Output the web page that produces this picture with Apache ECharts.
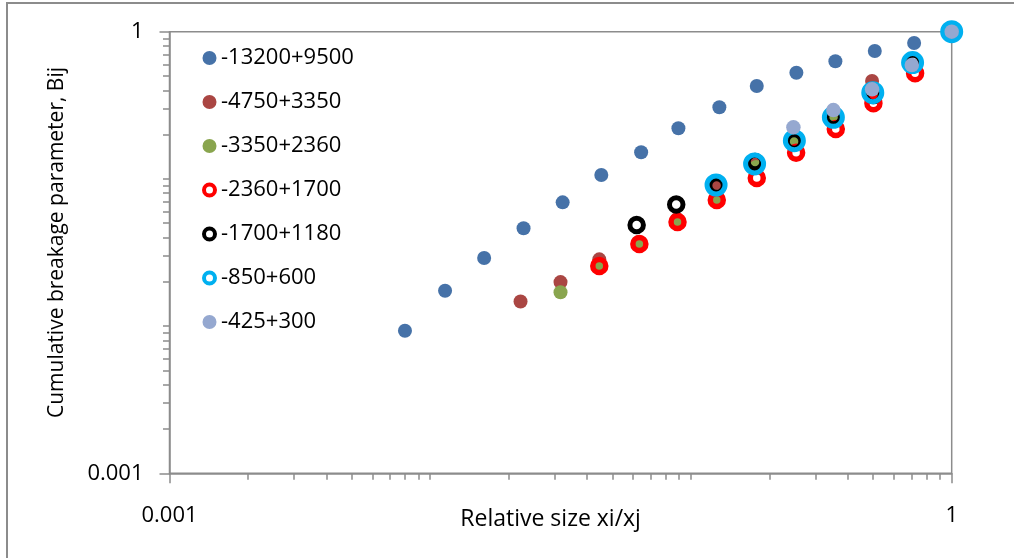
<!DOCTYPE html>
<html>
<head>
<meta charset="utf-8">
<script src="https://cdn.jsdelivr.net/npm/echarts@6/dist/echarts.min.js"></script>
<style>
  html, body { margin: 0; padding: 0; background: #ffffff; }
  #chart { width: 1014px; height: 558px; }
</style>
</head>
<body>
<div id="chart"></div>
<script>
// Size classes (µm) shown in the legend
const seriesNames = ['-13200+9500', '-4750+3350', '-3350+2360', '-2360+1700', '-1700+1180', '-850+600', '-425+300'];

// [relative size xi/xj, cumulative breakage parameter Bij]
const s13200 = [[0.0080, 0.0093], [0.0114, 0.0174], [0.0161, 0.0290], [0.0228, 0.0462], [0.0322, 0.0693],
                [0.0453, 0.1063], [0.0644, 0.1516], [0.0895, 0.2208], [0.1285, 0.3065], [0.1788, 0.4277],
                [0.2537, 0.5265], [0.3580, 0.6302], [0.5070, 0.7395], [0.7175, 0.8379], [1, 1]];
const s4750 = [[0.0222, 0.0147], [0.0316, 0.0199], [0.0445, 0.0284], [0.0632, 0.0373], [0.0885, 0.0534],
               [0.1248, 0.0938], [0.1760, 0.1344], [0.2490, 0.1867], [0.3520, 0.2633], [0.4950, 0.4625],
               [0.7080, 0.5850], [1, 1]];
const s3350 = [[0.0316, 0.0170], [0.0447, 0.0256], [0.0632, 0.0361], [0.0885, 0.0510], [0.1256, 0.0719],
               [0.1777, 0.1204], [0.2507, 0.1809], [0.3539, 0.2593], [0.4994, 0.3659], [0.7111, 0.5848], [1, 1]];
const s2360 = [[0.0445, 0.0256], [0.0634, 0.0361], [0.0888, 0.0510], [0.1256, 0.0719], [0.1788, 0.1014],
               [0.2531, 0.1507], [0.3593, 0.2183], [0.5009, 0.3263], [0.7238, 0.5217], [1, 1]];
const s1700 = [[0.0619, 0.0486], [0.0878, 0.0670], [0.1254, 0.0902], [0.1761, 0.1302], [0.2486, 0.1795],
               [0.3524, 0.2633], [0.5009, 0.3715], [0.7111, 0.6223], [1, 1]];
const s850 = [[0.1248, 0.0909], [0.1754, 0.1263], [0.2492, 0.1818], [0.3517, 0.2621], [0.4981, 0.3851],
              [0.7079, 0.6175], [1, 1]];
const s425 = [[0.2471, 0.2241], [0.3517, 0.2937], [0.4951, 0.4062], [0.7031, 0.5939], [1, 1]];

// Labelled (major) tick values on both log axes
const majorTicks = [0.001, 1];

// Minor ticks: 2..9 within every decade, plus the inner decade marks
const minorTicks = [];
for (let e = -3; e < 0; e++) {
  for (let m = 2; m <= 10; m++) {
    if (e === -1 && m === 10) continue;
    minorTicks.push(+(m * Math.pow(10, e)).toPrecision(3));
  }
}

const font = '"Open Sans", sans-serif';
const axisGray = '#8c8c8c';
const colors = {
  blue: '#4672A8', brown: '#AA4643', green: '#89A54E',
  red: '#FF0000', black: '#000000', cyan: '#00B0F0', grayBlue: '#95A8D0'
};

function tickLabel(v) {
  return v >= 0.5 ? '1' : '0.001';
}

function filled(name, data, color, size) {
  return {
    type: 'scatter', name: name, data: data, symbol: 'circle', symbolSize: size,
    itemStyle: { color: color, opacity: 1 },
    emphasis: { disabled: true }
  };
}

function ring(name, data, color, size, bw) {
  return {
    type: 'scatter', name: name, data: data, symbol: 'circle', symbolSize: size,
    itemStyle: { color: 'rgba(255,255,255,0)', borderColor: color, borderWidth: bw, opacity: 1 },
    emphasis: { disabled: true }
  };
}

const legendStyles = [
  { borderColor: colors.blue, borderWidth: 3 },
  { borderColor: colors.brown, borderWidth: 3 },
  { borderColor: colors.green, borderWidth: 3 },
  { borderWidth: 4 },
  { borderWidth: 4 },
  { borderWidth: 4 },
  { borderColor: colors.grayBlue, borderWidth: 3 }
];

const chart = echarts.init(document.getElementById('chart'));

const option = {
  animation: false,
  backgroundColor: '#ffffff',
  textStyle: { fontFamily: font },
  graphic: [{
    type: 'rect', silent: true, z: -10,
    shape: { x: 7, y: 3, width: 1030, height: 580 },
    style: { fill: 'none', stroke: axisGray, lineWidth: 2 }
  }],
  grid: {
    left: 169.5, right: 62.3, top: 31.7, bottom: 84.7,
    outerBoundsMode: 'none', containLabel: false,
    show: true, borderColor: axisGray, borderWidth: 1.5, backgroundColor: 'rgba(0,0,0,0)'
  },
  legend: {
    orient: 'vertical', left: 197, top: 42,
    itemWidth: 11, itemHeight: 11, itemGap: 22,
    selectedMode: false,
    textStyle: { fontFamily: font, fontSize: 22, lineHeight: 22, color: '#000', padding: [0, 0, 0, 1] },
    data: seriesNames.map(function (n, i) { return { name: n, icon: 'circle', itemStyle: legendStyles[i] }; })
  },
  xAxis: [{
    type: 'log', logBase: 10, min: 0.001, max: 1, position: 'bottom',
    axisLine: { show: true, onZero: false, lineStyle: { color: axisGray, width: 1.5 } },
    axisTick: { show: true, length: 10, customValues: majorTicks, lineStyle: { color: axisGray, width: 1.5 } },
    axisLabel: { customValues: majorTicks, formatter: tickLabel, margin: 31, color: '#000', fontSize: 22, fontFamily: font },
    splitLine: { show: false },
    name: 'Relative size xi/xj', nameLocation: 'middle', nameGap: 35, nameMoveOverlap: false,
    nameTextStyle: { fontFamily: font, fontSize: 23, color: '#000', padding: [0, 20, 0, 0] }
  }, {
    type: 'log', logBase: 10, min: 0.001, max: 1, position: 'bottom',
    axisLine: { show: false, onZero: false },
    axisTick: { show: true, length: 6.5, customValues: minorTicks, lineStyle: { color: axisGray, width: 1.5 } },
    axisLabel: { show: false },
    splitLine: { show: false }
  }],
  yAxis: [{
    type: 'log', logBase: 10, min: 0.001, max: 1, position: 'left',
    axisLine: { show: true, onZero: false, lineStyle: { color: axisGray, width: 1.5 } },
    axisTick: { show: true, length: 10, customValues: majorTicks, lineStyle: { color: axisGray, width: 1.5 } },
    axisLabel: { customValues: majorTicks, formatter: tickLabel, margin: 26, color: '#000', fontSize: 22, fontFamily: font },
    splitLine: { show: false },
    name: 'Cumulative breakage parameter, Bij', nameLocation: 'middle', nameGap: 102, nameMoveOverlap: false,
    nameTextStyle: { fontFamily: font, fontSize: 21, color: '#000', padding: [0, 0, 0, 20] }
  }, {
    type: 'log', logBase: 10, min: 0.001, max: 1, position: 'left',
    axisLine: { show: false, onZero: false },
    axisTick: { show: true, length: 6.5, customValues: minorTicks, lineStyle: { color: axisGray, width: 1.5 } },
    axisLabel: { show: false },
    splitLine: { show: false }
  }],
  series: [
    filled(seriesNames[0], s13200, colors.blue, 14),
    filled(seriesNames[1], s4750, colors.brown, 14),
    filled(seriesNames[2], s3350, colors.green, 14),
    ring(seriesNames[3], s2360, colors.red, 13, 5.5),
    ring(seriesNames[4], s1700, colors.black, 13.5, 5),
    ring(seriesNames[5], s850, colors.cyan, 18, 5),
    filled(seriesNames[6], s425, colors.grayBlue, 14.5)
  ]
};

chart.setOption(option);
</script>
</body>
</html>
